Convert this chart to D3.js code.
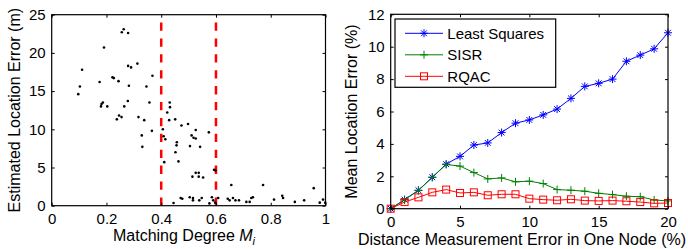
<!DOCTYPE html>
<html lang="en">
<head>
<meta charset="UTF-8">
<title>Matching degree and location error</title>
<script src="https://cdnjs.cloudflare.com/ajax/libs/d3/7.8.5/d3.min.js"></script>
<style>
  body { margin: 0; background: #fff; }
  svg text { font-family: "Liberation Sans", Arial, sans-serif; fill: #000; }
</style>
</head>
<body>
<svg id="chart" width="688" height="249"></svg>
<script>
// left panel: scatter of matching degree vs estimated error
var matchDeg = [0.097,0.103,0.111,0.175,0.182,0.187,0.180,0.191,0.203,0.222,0.227,0.244,0.238,0.246,0.255,
  0.256,0.263,0.279,0.279,0.290,0.313,0.282,0.278,0.265,0.317,0.338,0.329,0.331,0.346,0.357,0.368,0.366,
  0.406,0.409,0.415,0.411,0.431,0.432,0.422,0.429,0.451,0.457,0.456,0.452,0.463,0.474,0.498,0.505,0.511,
  0.518,0.526,0.526,0.542,0.574,0.514,0.526,0.537,0.537,0.553,0.593,0.598,0.445,0.471,0.477,0.504,0.516,
  0.516,0.539,0.548,0.576,0.585,0.590,0.597,0.608,0.643,0.650,0.656,0.662,0.671,0.684,0.711,0.723,0.729,
  0.735,0.772,0.812,0.842,0.845,0.888,0.922,0.957,0.979,0.991,0.999];
var estError = [14.6,15.6,17.8,16.2,13.3,13.5,13.0,20.7,13.0,16.8,16.7,16.3,11.3,11.8,11.6,
  22.7,23.1,22.6,18.3,18.1,18.6,15.7,13.7,13.0,11.6,11.2,9.2,7.7,15.6,13.5,17.0,9.8,
  10.0,9.1,8.7,5.7,13.5,12.9,12.2,11.2,11.3,8.3,7.9,7.0,5.8,10.5,10.7,7.8,9.2,
  8.9,8.8,9.9,7.7,9.6,3.8,4.3,4.3,3.8,3.7,4.7,4.6,0.35,1.0,0.9,1.1,1.0,
  0.7,0.7,1.0,0.3,1.1,0.7,0.4,1.0,0.9,0.7,2.7,1.0,0.7,0.7,0.5,0.5,1.0,
  1.1,2.7,0.8,1.3,1.0,0.5,0.7,2.3,0.4,0.8,0.4];
var thresholds = [0.4, 0.6];
var leftXTicks = [0, 0.2, 0.4, 0.6, 0.8, 1];
var leftYTicks = [0, 5, 10, 15, 20, 25];

// right panel: mean location error vs distance error
var distErr = [0,1,2,3,4,5,6,7,8,9,10,11,12,13,14,15,16,17,18,19,20];
var leastSquares = [0,0.56,1.14,1.94,2.75,3.23,3.93,4.06,4.70,5.28,5.48,5.79,6.15,6.81,7.55,7.74,8.0,9.10,9.48,9.87,10.86];
var sisr = [0,0.55,1.12,1.94,2.73,2.63,2.23,1.84,1.90,1.66,1.70,1.55,1.18,1.14,1.08,0.95,0.87,0.77,0.74,0.54,0.48];
var rqac = [0,0.41,0.70,1.01,1.18,0.97,1.01,0.83,0.89,0.89,0.62,0.56,0.52,0.58,0.50,0.48,0.50,0.46,0.41,0.33,0.35];
var seriesNames = ["Least Squares", "SISR", "RQAC"];
var seriesColors = ["#0000ff", "#008000", "#ff0000"];
var rightXTicks = [0, 5, 10, 15, 20];
var rightYTicks = [0, 2, 4, 6, 8, 10, 12];

var svg = d3.select("#chart");

// box axes with inward ticks on all sides (matlab look)
function boxAxes(g, x, y, xt, yt, fmtX) {
    var x0 = x.range()[0], x1 = x.range()[1], y0 = y.range()[0], y1 = y.range()[1];
    g.append("g").attr("transform", "translate(0," + y0 + ")")
        .call(d3.axisBottom(x).tickValues(xt).tickSizeInner(-3).tickSizeOuter(0).tickPadding(8).tickFormat(fmtX))
        .call(function(a){ a.select(".domain").remove(); });
    g.append("g").attr("transform", "translate(0," + y1 + ")")
        .call(d3.axisTop(x).tickValues(xt).tickSizeInner(-3).tickSizeOuter(0).tickFormat(""))
        .call(function(a){ a.select(".domain").remove(); });
    g.append("g").attr("transform", "translate(" + x0 + ",0)")
        .call(d3.axisLeft(y).tickValues(yt).tickSizeInner(-3).tickSizeOuter(0).tickPadding(6))
        .call(function(a){ a.select(".domain").remove(); });
    g.append("g").attr("transform", "translate(" + x1 + ",0)")
        .call(d3.axisRight(y).tickValues(yt).tickSizeInner(-3).tickSizeOuter(0).tickFormat(""))
        .call(function(a){ a.select(".domain").remove(); });
    g.selectAll(".tick text").attr("font-size", 15).attr("font-family", null);
    g.selectAll(".tick line").attr("stroke", "#000");
    g.append("rect").attr("x", x0).attr("y", y1).attr("width", x1 - x0).attr("height", y0 - y1)
        .attr("fill", "none").attr("stroke", "#000").attr("stroke-width", 1.2);
}

// ---- left panel
var xL = d3.scaleLinear().domain([0, 1]).range([51.7, 325.5]);
var yL = d3.scaleLinear().domain([0, 25]).range([205.7, 14.7]);
var gL = svg.append("g");

gL.selectAll(".thr").data(thresholds).enter().append("line")
    .attr("x1", function(d){ return xL(d); }).attr("x2", function(d){ return xL(d); })
    .attr("y1", yL(0)).attr("y2", yL(24))
    .attr("stroke", "#ff0000").attr("stroke-width", 2.5).attr("stroke-dasharray", "8.3,7.6");

gL.selectAll(".dot").data(matchDeg).enter().append("circle")
    .attr("cx", function(d){ return xL(d); })
    .attr("cy", function(d, i){ return yL(estError[i]); })
    .attr("r", 1.3).attr("fill", "#000");

boxAxes(gL, xL, yL, leftXTicks, leftYTicks, function(d){ return d === 0 || d === 1 ? d : d3.format(".1f")(d); });

var xlab = gL.append("text").attr("x", 184).attr("y", 241).attr("text-anchor", "middle").attr("font-size", 16);
xlab.append("tspan").text("Matching Degree ");
xlab.append("tspan").attr("font-style", "italic").text("M");
xlab.append("tspan").attr("font-style", "italic").attr("font-size", 11).attr("dy", 4).text("i");

gL.append("text").attr("transform", "translate(20," + ((yL(0) + yL(25)) / 2) + ") rotate(-90)")
    .attr("text-anchor", "middle").attr("font-size", 16).text("Estimated Location Error (m)");

// ---- right panel
var xR = d3.scaleLinear().domain([0, 20]).range([390.7, 668]);
var yR = d3.scaleLinear().domain([0, 12]).range([208.7, 14.3]);
var gR = svg.append("g");

var allSeries = [leastSquares, sisr, rqac];
var line = d3.line().x(function(d, i){ return xR(distErr[i]); }).y(function(d){ return yR(d); });

function drawMarker(sel, k, color) {
    if (k === 0) {
        sel.append("path").attr("d", "M-4,0H4M0,-4V4M-2.9,-2.9L2.9,2.9M-2.9,2.9L2.9,-2.9")
            .attr("stroke", color).attr("stroke-width", 1).attr("fill", "none");
    } else if (k === 1) {
        sel.append("path").attr("d", "M-4,0H4M0,-4V4")
            .attr("stroke", color).attr("stroke-width", 1).attr("fill", "none");
    } else {
        sel.append("rect").attr("x", -3.5).attr("y", -3.5).attr("width", 7).attr("height", 7)
            .attr("stroke", color).attr("stroke-width", 1).attr("fill", "none");
    }
}

allSeries.forEach(function(vals, k) {
    gR.append("path").datum(vals).attr("d", line)
        .attr("fill", "none").attr("stroke", seriesColors[k]).attr("stroke-width", 1);
    gR.selectAll(".m" + k).data(vals).enter().append("g")
        .attr("transform", function(d, i){ return "translate(" + xR(distErr[i]) + "," + yR(d) + ")"; })
        .each(function(){ drawMarker(d3.select(this), k, seriesColors[k]); });
});

boxAxes(gR, xR, yR, rightXTicks, rightYTicks, d3.format("d"));

gR.append("text").attr("x", 522).attr("y", 245).attr("text-anchor", "middle").attr("font-size", 16)
    .text("Distance Measurement Error in One Node (%)");
gR.append("text").attr("transform", "translate(357," + ((yR(0) + yR(12)) / 2) + ") rotate(-90)")
    .attr("text-anchor", "middle").attr("font-size", 16).text("Mean Location Error (%)");

// legend
var lg = gR.append("g").attr("transform", "translate(395,19)");
lg.append("rect").attr("width", 160.7).attr("height", 68.3).attr("fill", "#fff").attr("stroke", "#000").attr("stroke-width", 1.2);
seriesNames.forEach(function(name, k) {
    var ly = 14.3 + k * 21.5;
    lg.append("line").attr("x1", 10).attr("x2", 48).attr("y1", ly).attr("y2", ly)
        .attr("stroke", seriesColors[k]).attr("stroke-width", 1);
    drawMarker(lg.append("g").attr("transform", "translate(29," + ly + ")"), k, seriesColors[k]);
    lg.append("text").attr("x", 52.3).attr("y", ly + 5.3).attr("font-size", 15).text(name);
});
</script>
</body>
</html>
